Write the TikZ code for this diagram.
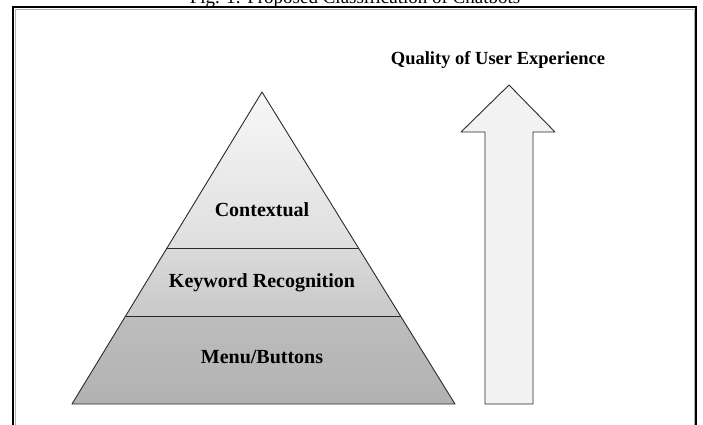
\documentclass[tikz,border=0pt]{standalone}
\usepackage{fontspec}
\setmainfont{Liberation Serif}
\definecolor{topA}{HTML}{F8F8F8}
\definecolor{topB}{HTML}{DEDEDE}
\definecolor{midA}{HTML}{DADADA}
\definecolor{midB}{HTML}{C9C9C9}
\definecolor{botA}{HTML}{BDBDBD}
\definecolor{botB}{HTML}{B2B2B2}
\definecolor{arrowfill}{HTML}{F2F2F2}
\definecolor{edge}{HTML}{2A2A2A}
\tikzset{
  layerlabel/.style={font=\bfseries\fontsize{20}{24}\selectfont, inner sep=0pt},
  qlabel/.style={font=\bfseries\fontsize{18.5}{22}\selectfont, inner sep=0pt},
  captext/.style={font=\fontsize{19}{22}\selectfont, inner sep=0pt, anchor=base},
  outline/.style={draw=edge, line width=0.9pt, line join=round},
  framebox/.style={draw=black, line width=1.3pt},
  frameshadow/.style={draw=black!30, line width=0.8pt}
}
\begin{document}
\begin{tikzpicture}[x=1pt,y=-1pt]
\useasboundingbox (0,0) rectangle (703,424);
\clip (0,0) rectangle (703,424);
% caption (mostly cut off at the top)
\node[captext] (cap) at (355,3) {Fig. 1: Proposed Classification of Chatbots};
% frame
\draw[frameshadow] (14.9,430) -- (14.9,8.9) -- (694.1,8.9) -- (694.1,430);
\draw[framebox] (13,430) -- (13,7) -- (696,7) -- (696,430);
% pyramid points
\coordinate (A) at (262,92);
\coordinate (BL) at (72,404);
\coordinate (BR) at (455,404);
\coordinate (L1) at (167,248);
\coordinate (R1) at (358.5,248);
\coordinate (L2) at (125.6,316);
\coordinate (R2) at (400.6,316);
% fills
\shade[top color=topA, bottom color=topB] (A) -- (L1) -- (R1) -- cycle;
\shade[top color=midA, bottom color=midB] (L1) -- (L2) -- (R2) -- (R1) -- cycle;
\shade[top color=botA, bottom color=botB] (L2) -- (BL) -- (BR) -- (R2) -- cycle;
% outlines
\draw[outline] (A) -- (BL) -- (BR) -- cycle;
\draw[outline] (L1) -- (R1);
\draw[outline] (L2) -- (R2);
% labels
\node[layerlabel] (ctx) at (262,210) {Contextual};
\node[layerlabel] (kw) at (262,283) {Keyword Recognition};
\node[layerlabel] (menu) at (262,357) {Menu/Buttons};
% arrow
\coordinate (T) at (509,85);
\draw[outline, fill=arrowfill] (T) -- (555,132) -- (533,132) -- (533,404) -- (485,404) -- (485,132) -- (461,132) -- cycle;
\node[qlabel] (q) at (498,60) {Quality of User Experience};
\end{tikzpicture}
\end{document}
